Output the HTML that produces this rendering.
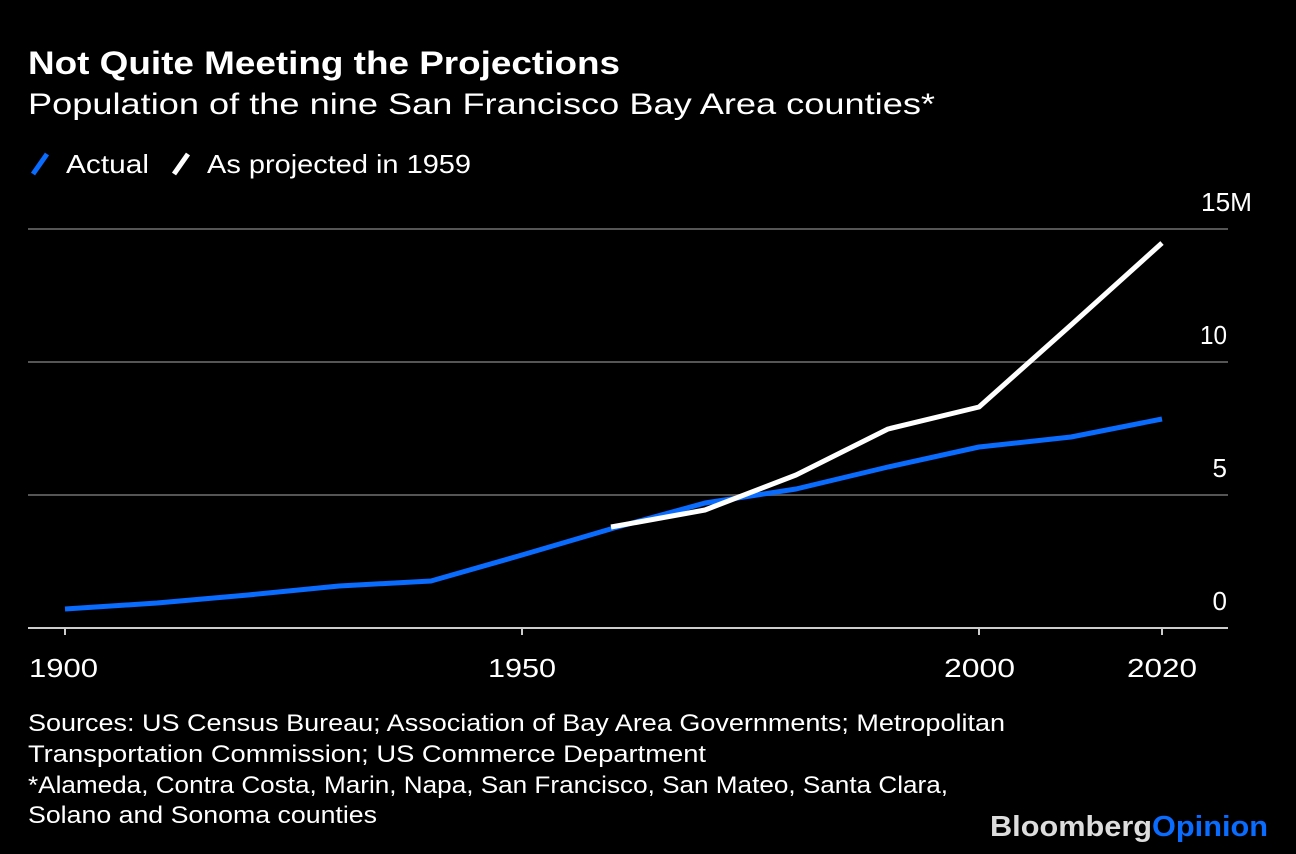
<!DOCTYPE html>
<html><head><meta charset="utf-8"><style>
html,body{margin:0;padding:0;background:#000;}
body{width:1296px;height:854px;overflow:hidden;font-family:"Liberation Sans",Arial,sans-serif;}
</style></head><body>
<svg width="1296" height="854" style="position:absolute;left:0;top:0" font-family="Liberation Sans,Arial,sans-serif">
<text x="28" y="74" fill="#fff" font-size="32" font-weight="bold" textLength="592" lengthAdjust="spacingAndGlyphs">Not Quite Meeting the Projections</text>
<text x="28" y="114" fill="#fff" font-size="30" textLength="907" lengthAdjust="spacingAndGlyphs">Population of the nine San Francisco Bay Area counties*</text>
<line x1="33" y1="174" x2="47" y2="154" stroke="#0a6cff" stroke-width="5"/>
<line x1="174" y1="174" x2="188" y2="154" stroke="#fff" stroke-width="5"/>
<g stroke="#555" stroke-width="2">
<line x1="28" y1="229" x2="1228" y2="229"/>
<line x1="28" y1="362" x2="1228" y2="362"/>
<line x1="28" y1="495" x2="1228" y2="495"/>
</g>
<line x1="28" y1="628" x2="1228" y2="628" stroke="#ccc" stroke-width="2"/>
<g stroke="#ccc" stroke-width="2">
<line x1="65" y1="628" x2="65" y2="635"/><line x1="522" y1="628" x2="522" y2="635"/>
<line x1="979" y1="628" x2="979" y2="635"/><line x1="1162" y1="628" x2="1162" y2="635"/>
</g>
<polyline fill="none" stroke="#0a6cff" stroke-width="5" stroke-linejoin="round" points="65,609 157,603 248,595 339,586 431,581 522,555 614,528 705,503 796,489 888,467 979,447 1071,437 1162,419"/>
<polyline fill="none" stroke="#fff" stroke-width="5" stroke-linejoin="round" points="611,527 705,510 796,475 888,429 979,407 1071,325 1162,243"/>
<g fill="#fff" font-size="26">
<text x="66" y="173" textLength="83" lengthAdjust="spacingAndGlyphs">Actual</text>
<text x="207" y="173" textLength="264" lengthAdjust="spacingAndGlyphs">As projected in 1959</text>
<text x="1201" y="211" textLength="51" lengthAdjust="spacingAndGlyphs">15M</text>
<text x="1200" y="344" textLength="27" lengthAdjust="spacingAndGlyphs">10</text>
<text x="1227" y="477" text-anchor="end">5</text>
<text x="1227" y="610" text-anchor="end">0</text>
<text x="29" y="677" textLength="69" lengthAdjust="spacingAndGlyphs">1900</text>
<text x="488" y="677" textLength="68" lengthAdjust="spacingAndGlyphs">1950</text>
<text x="944" y="677" textLength="71" lengthAdjust="spacingAndGlyphs">2000</text>
<text x="1127" y="677" textLength="70" lengthAdjust="spacingAndGlyphs">2020</text>
</g>
<g fill="#fff" font-size="24">
<text x="28" y="731" textLength="977" lengthAdjust="spacingAndGlyphs">Sources: US Census Bureau; Association of Bay Area Governments; Metropolitan</text>
<text x="28" y="762" textLength="678" lengthAdjust="spacingAndGlyphs">Transportation Commission; US Commerce Department</text>
<text x="28" y="793" textLength="920" lengthAdjust="spacingAndGlyphs">*Alameda, Contra Costa, Marin, Napa, San Francisco, San Mateo, Santa Clara,</text>
<text x="28" y="823" textLength="349" lengthAdjust="spacingAndGlyphs">Solano and Sonoma counties</text>
</g>
<text x="990" y="836" font-size="29" font-weight="bold" textLength="278" lengthAdjust="spacingAndGlyphs"><tspan fill="#ddd">Bloomberg</tspan><tspan fill="#0a6cff">Opinion</tspan></text>
</svg>
</body></html>
